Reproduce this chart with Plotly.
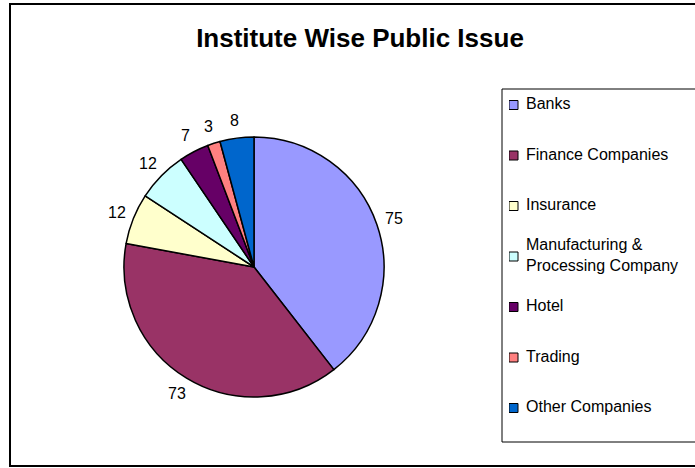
import math
import plotly.graph_objects as go

# Public issues by type of institute
categories = [
    "Banks",
    "Finance Companies",
    "Insurance",
    "Manufacturing & Processing Company",
    "Hotel",
    "Trading",
    "Other Companies",
]
issues = [75, 73, 12, 12, 7, 3, 8]
colors = ["#9999FF", "#993366", "#FFFFCC", "#CCFFFF", "#660066", "#FF8080", "#0066CC"]

W, H = 695, 468
FONT = "Arial, Liberation Sans, sans-serif"


def px_x(v):
    return v / W


def px_y(v):
    return 1 - v / H


# legend text: break the long entry onto two lines
legend_labels = [c.replace("& ", "&<br>") for c in categories]

fig = go.Figure()

# pie centred at (254, 267) px with a 130 px radius, first slice from 12 o'clock clockwise
cx, cy, r = 254, 267, 130
fig.add_trace(
    go.Pie(
        labels=categories,
        values=issues,
        sort=False,
        direction="clockwise",
        rotation=0,
        marker=dict(colors=colors, line=dict(color="black", width=1.5)),
        textinfo="none",
        domain=dict(x=[px_x(cx - r), px_x(cx + r)], y=[px_y(cy + r), px_y(cy - r)]),
        showlegend=False,
        hoverinfo="label+value",
    )
)

# value labels just outside the rim, at each slice's middle angle
label_gap = 18
annotations = []
total = sum(issues)
cum = 0
for v in issues:
    mid = (cum + v / 2) / total * 2 * math.pi
    cum += v
    lx = cx + (r + label_gap) * math.sin(mid)
    ly = cy - (r + label_gap) * math.cos(mid)
    annotations.append(
        dict(
            x=px_x(lx), y=px_y(ly), xref="paper", yref="paper",
            text=str(v), showarrow=False,
            xanchor="center", yanchor="middle",
            font=dict(family=FONT, size=16, color="black"),
        )
    )

# legend: coloured squares and names on a hidden category axis
leg_left, leg_top, leg_bottom = 509, 89, 442
first_y, last_y = 105, 408
pitch = (last_y - first_y) / (len(categories) - 1)

fig.add_trace(
    go.Scatter(
        x=[4.5] * len(categories),
        y=categories,
        mode="markers",
        marker=dict(symbol="square", size=9, color=colors, line=dict(color="black", width=1)),
        showlegend=False,
        hoverinfo="skip",
    )
)
fig.add_trace(
    go.Scatter(
        x=[17] * len(categories),
        y=categories,
        mode="text",
        text=legend_labels,
        textposition="middle right",
        textfont=dict(family=FONT, size=16, color="black"),
        showlegend=False,
        hoverinfo="skip",
    )
)

fig.update_layout(
    width=W,
    height=H,
    margin=dict(l=0, r=0, t=0, b=0, autoexpand=False),
    paper_bgcolor="white",
    plot_bgcolor="rgba(0,0,0,0)",
    font=dict(family=FONT, color="black"),
    showlegend=False,
    title=dict(
        text="<b>Institute Wise Public Issue</b>",
        x=px_x(360),
        xanchor="center",
        y=px_y(38),
        yanchor="middle",
        font=dict(family=FONT, size=26, color="black"),
    ),
    xaxis=dict(
        domain=[px_x(leg_left), 1],
        range=[0, W - leg_left],
        visible=False,
        fixedrange=True,
    ),
    yaxis=dict(
        domain=[px_y(leg_bottom), px_y(leg_top)],
        type="category",
        categoryorder="array",
        categoryarray=categories,
        range=[
            len(categories) - 1 + (leg_bottom - last_y) / pitch,
            -(first_y - leg_top) / pitch,
        ],
        visible=False,
        fixedrange=True,
    ),
    annotations=annotations,
    shapes=[
        # chart frame (right edge runs past the page)
        dict(
            type="rect", xref="paper", yref="paper",
            x0=px_x(10), x1=px_x(W + 10), y0=px_y(466), y1=px_y(4),
            line=dict(color="black", width=2), layer="below",
        ),
        # legend box
        dict(
            type="rect", xref="paper", yref="paper",
            x0=px_x(502), x1=px_x(W + 10), y0=px_y(leg_bottom), y1=px_y(leg_top),
            line=dict(color="black", width=1), layer="below",
        ),
    ],
)

fig.write_html("out.html")
